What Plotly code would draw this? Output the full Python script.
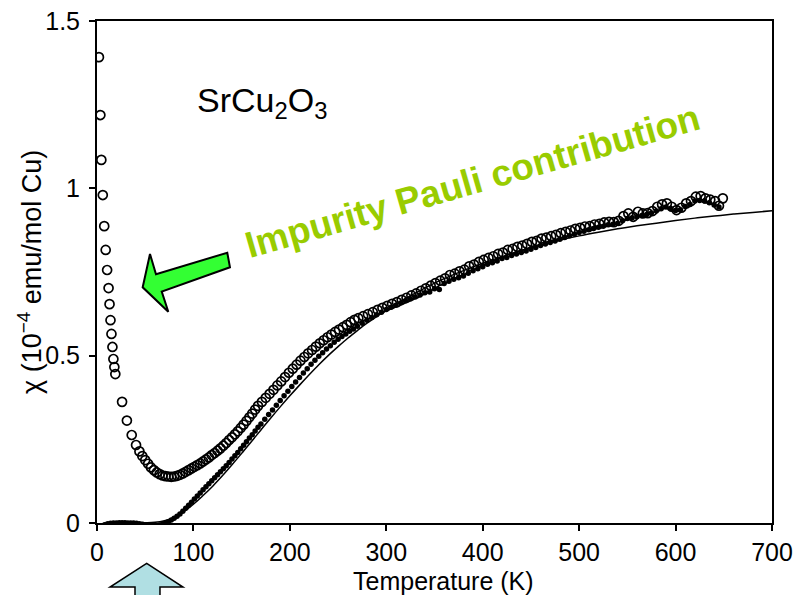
import plotly.graph_objects as go

# ---------------- data ----------------
open_T = [2, 3.5, 4.5, 6, 7.5, 9, 10.5, 12, 13, 14, 15, 16, 17, 18, 19, 26, 31, 36, 40.5, 44,
          47, 50, 53, 56, 59, 62, 65, 68, 71, 74, 77, 80, 83, 86, 89, 92, 95, 98, 101, 104,
          107, 110, 113, 116, 119, 122, 125, 128, 131, 134, 137, 140, 143, 146, 149, 152, 155, 158, 161, 164,
          167, 171, 175, 179, 183, 187, 191, 195, 199, 203, 207, 211, 215, 219, 223, 227, 231, 235, 239, 243,
          247, 251, 255, 259, 263, 267, 271, 276, 281, 286, 291, 296, 301, 306, 311, 316, 321, 326, 331, 336,
          341, 346, 351, 356, 361, 366, 371, 376, 381, 386, 391, 396, 401, 406, 411, 416, 421, 426, 431, 436,
          441, 446, 451, 456, 461, 466, 471, 476, 481, 486, 491, 496, 501, 506, 511, 516, 521, 526, 531, 536,
          541, 546, 551, 556, 561, 566, 571, 576, 581, 586, 591, 596, 601, 606, 611, 616, 621, 626, 631, 636,
          641, 645, 649]
open_chi = [1.392, 1.219, 1.085, 0.980, 0.887, 0.816, 0.756, 0.702, 0.654, 0.606, 0.565, 0.526, 0.490, 0.466, 0.445, 0.362, 0.306, 0.263, 0.233, 0.214,
            0.200, 0.188, 0.177, 0.166, 0.158, 0.151, 0.146, 0.142, 0.140, 0.139, 0.138, 0.139, 0.141, 0.144, 0.148, 0.153, 0.158, 0.163, 0.168, 0.173,
            0.178, 0.184, 0.190, 0.196, 0.203, 0.209, 0.216, 0.223, 0.231, 0.239, 0.248, 0.256, 0.265, 0.274, 0.284, 0.294, 0.305, 0.316, 0.327, 0.339,
            0.350, 0.362, 0.374, 0.386, 0.398, 0.411, 0.423, 0.436, 0.449, 0.461, 0.473, 0.485, 0.496, 0.507, 0.517, 0.527, 0.537, 0.546, 0.555, 0.563,
            0.571, 0.578, 0.585, 0.592, 0.600, 0.607, 0.612, 0.618, 0.624, 0.630, 0.637, 0.643, 0.649, 0.655, 0.660, 0.667, 0.673, 0.680, 0.686, 0.694,
            0.701, 0.709, 0.717, 0.724, 0.731, 0.741, 0.745, 0.752, 0.757, 0.767, 0.772, 0.780, 0.786, 0.792, 0.797, 0.804, 0.808, 0.816, 0.819, 0.825,
            0.829, 0.834, 0.840, 0.843, 0.850, 0.853, 0.857, 0.861, 0.866, 0.870, 0.874, 0.879, 0.882, 0.886, 0.887, 0.892, 0.894, 0.898, 0.900, 0.899,
            0.903, 0.917, 0.925, 0.915, 0.930, 0.925, 0.926, 0.932, 0.945, 0.952, 0.955, 0.945, 0.935, 0.942, 0.955, 0.962, 0.975, 0.977, 0.970, 0.966,
            0.962, 0.948, 0.970]

filled_T = [5, 8, 11, 14, 17, 20, 23, 26, 29, 32, 35, 38, 41, 44, 47, 50, 53, 56, 59, 62,
            65, 68, 71, 74, 77, 80, 83, 86, 89, 92, 95, 98, 101, 104, 107, 110, 113, 116, 119, 122,
            125, 128, 131, 134, 137, 140, 143, 146, 149, 152, 155, 158, 161, 164, 167, 170, 174, 178, 182, 186,
            190, 194, 198, 202, 206, 210, 214, 218, 222, 226, 230, 234, 238, 242, 246, 250, 254, 258, 262, 266,
            270, 275, 280, 285, 290, 295, 300, 305, 310, 315, 320, 325, 330, 335, 340, 345, 350, 355, 360, 365,
            370, 375, 380, 385, 390, 395, 400, 405, 410, 415, 420, 425, 430, 435, 440, 445, 450, 455, 460, 465,
            470, 475, 480, 485, 490, 495, 500, 505, 510, 515, 520, 525, 530, 535, 540, 545, 550, 555, 560, 565,
            570, 575, 580, 585, 590, 595, 600, 605, 610, 615, 620, 625, 630, 635, 640, 645]
filled_chi = [-0.012, -0.005, -0.002, -0.001, 0.000, 0.000, 0.001, 0.001, 0.001, 0.000, 0.000, 0.000, -0.001, -0.002, -0.004, -0.006, -0.008, -0.009, -0.009, -0.008,
              -0.006, -0.003, 0.000, 0.004, 0.009, 0.014, 0.020, 0.027, 0.035, 0.044, 0.053, 0.062, 0.072, 0.081, 0.090, 0.099, 0.108, 0.117, 0.126, 0.135,
              0.144, 0.153, 0.162, 0.171, 0.181, 0.191, 0.201, 0.211, 0.222, 0.232, 0.243, 0.254, 0.264, 0.275, 0.286, 0.296, 0.310, 0.324, 0.338, 0.352,
              0.366, 0.380, 0.394, 0.408, 0.421, 0.435, 0.448, 0.461, 0.474, 0.486, 0.498, 0.509, 0.520, 0.530, 0.540, 0.549, 0.557, 0.565, 0.573, 0.580,
              0.588, 0.597, 0.606, 0.614, 0.622, 0.630, 0.638, 0.645, 0.651, 0.657, 0.663, 0.669, 0.675, 0.681, 0.688, 0.690, 0.700, 0.698, 0.716, 0.722,
              0.728, 0.733, 0.738, 0.746, 0.754, 0.760, 0.766, 0.773, 0.778, 0.783, 0.790, 0.793, 0.799, 0.804, 0.808, 0.813, 0.818, 0.823, 0.829, 0.834,
              0.838, 0.843, 0.848, 0.853, 0.858, 0.863, 0.868, 0.872, 0.876, 0.880, 0.884, 0.887, 0.891, 0.893, 0.896, 0.903, 0.910, 0.912, 0.915, 0.919,
              0.922, 0.926, 0.932, 0.939, 0.944, 0.940, 0.934, 0.936, 0.946, 0.952, 0.962, 0.964, 0.962, 0.957, 0.950, 0.944]

fit_T = [40, 60, 70, 80, 90, 100, 110, 120, 130, 140, 150, 160, 170, 180, 190, 200, 210, 220, 230, 240,
         250, 260, 270, 280, 290, 300, 320, 340, 360, 380, 400, 420, 440, 460, 480, 500, 520, 540, 560, 580,
         600, 620, 640, 660, 680, 700]
fit_chi = [0.000, 0.002, 0.007, 0.017, 0.034, 0.056, 0.082, 0.110, 0.141, 0.174, 0.208, 0.243, 0.278, 0.313, 0.347, 0.380, 0.412, 0.443, 0.473, 0.501,
           0.527, 0.552, 0.575, 0.597, 0.617, 0.636, 0.671, 0.702, 0.730, 0.754, 0.776, 0.796, 0.814, 0.830, 0.845, 0.858, 0.869, 0.879, 0.888, 0.896,
           0.904, 0.911, 0.917, 0.923, 0.928, 0.933]

x_ticks = [0, 100, 200, 300, 400, 500, 600, 700]
y_ticks = [0, 0.5, 1, 1.5]
y_tick_text = ["0", "0.5", "1", "1.5"]

# ---------------- layout geometry ----------------
W, H = 797, 595
ML, MR, MT, MB = 97, 25, 21, 72
PW, PH = W - ML - MR, H - MT - MB
FONT = "Liberation Sans, Arial, Helvetica, sans-serif"


def px(x, y):
    """pixel -> paper coordinates"""
    return (x - ML) / PW, (H - MB - y) / PH


def path(points):
    pts = [px(*p) for p in points]
    return "M " + " L ".join(f"{a:.4f},{b:.4f}" for a, b in pts) + " Z"


fig = go.Figure()
fig.add_trace(go.Scatter(x=fit_T, y=fit_chi, mode="lines", line_shape="spline",
                         line=dict(color="black", width=1.5), showlegend=False))
fig.add_trace(go.Scatter(x=filled_T, y=filled_chi, mode="markers",
                         marker=dict(symbol="circle", size=5.5, color="black"), showlegend=False))
fig.add_trace(go.Scatter(x=open_T, y=open_chi, mode="markers",
                         marker=dict(symbol="circle-open", size=9, color="black",
                                     line=dict(width=1.7, color="black")), showlegend=False))

axis_common = dict(showgrid=False, zeroline=False, showline=True, linewidth=2, linecolor="black",
                   mirror=True, ticks="outside", ticklen=6, tickwidth=1.5, tickcolor="black",
                   automargin=False,
                   tickfont=dict(family=FONT, size=25, color="black"))
fig.update_xaxes(range=[0, 700], tickvals=x_ticks, ticktext=[str(v) for v in x_ticks], **axis_common)
fig.update_yaxes(range=[0, 1.5], tickvals=y_ticks, ticktext=y_tick_text, ticklabelstandoff=4, **axis_common)

# green arrow (pointing to the Curie tail)
green_arrow = [(142.7, 287.3), (150, 254), (156, 274.3), (227.3, 252.7), (230, 267.3),
               (161.7, 291.7), (168.3, 311.7)]
# blue arrow below the axis
blue_arrow = [(146.7, 563.3), (183, 587), (160, 587), (160, 600), (135, 600), (135, 587), (110, 587)]

fig.update_layout(
    width=W, height=H, autosize=False,
    margin=dict(l=ML, r=MR, t=MT, b=MB),
    paper_bgcolor="white", plot_bgcolor="white",
    shapes=[
        dict(type="path", xref="paper", yref="paper", path=path(green_arrow),
             fillcolor="#33ff33", line=dict(color="black", width=2)),
        dict(type="path", xref="paper", yref="paper", path=path(blue_arrow),
             fillcolor="#b0dfe3", line=dict(color="black", width=1.5)),
    ],
    annotations=[
        dict(text="SrCu<sub>2</sub>O<sub>3</sub>", xref="paper", yref="paper",
             x=px(262, 103)[0], y=px(262, 103)[1], showarrow=False,
             xanchor="center", yanchor="middle", font=dict(family=FONT, size=34, color="black")),
        dict(text="<b>Impurity Pauli contribution</b>", xref="paper", yref="paper",
             x=px(472, 181)[0], y=px(472, 181)[1], showarrow=False, textangle=-16,
             xanchor="center", yanchor="middle", font=dict(family=FONT, size=37, color="#99cc00")),
        dict(text="Temperature (K)", xref="paper", yref="paper",
             x=px(443, 597)[0], y=px(443, 597)[1], showarrow=False,
             xanchor="center", yanchor="bottom", font=dict(family=FONT, size=25, color="black")),
        dict(text="χ (10<sup>−4</sup> emu/mol Cu)", xref="paper", yref="paper",
             x=px(30, 272)[0], y=px(30, 272)[1], showarrow=False, textangle=-90,
             xanchor="center", yanchor="middle", font=dict(family=FONT, size=27, color="black")),
    ],
)

fig.write_html("out.html")
